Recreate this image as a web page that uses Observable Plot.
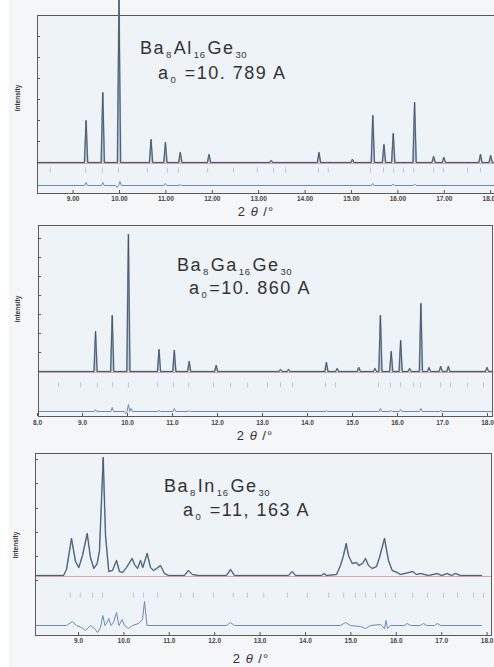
<!DOCTYPE html>
<html><head><meta charset="utf-8">
<script src="https://cdn.jsdelivr.net/npm/d3@7"></script>
<script src="https://cdn.jsdelivr.net/npm/@observablehq/plot@0.6"></script>
<style>
html,body{margin:0;padding:0;}
body{width:494px;height:667px;overflow:hidden;position:relative;background:#f4f6f8;font-family:"Liberation Sans",Arial,sans-serif;}
.strip{position:absolute;left:0;top:0;width:9px;height:667px;background:#fff;}
.panel{position:absolute;left:0;}
.title{position:absolute;font-size:18px;line-height:18px;color:#333;letter-spacing:1.5px;white-space:nowrap;}
.title .s{font-size:9.5px;vertical-align:-4px;letter-spacing:0.5px;margin:0 2px 0 1px;}
.ylab{position:absolute;font-size:6.5px;font-weight:bold;color:#333;transform:translate(-50%,-50%) rotate(-90deg);white-space:nowrap;}
.xlab{position:absolute;font-size:13px;line-height:13px;color:#333;letter-spacing:1px;transform:translate(-50%,-50%);white-space:nowrap;}
</style></head><body>
<div class="strip"></div>
<div class="panel" id="p1" style="top:0px"></div>
<div class="panel" id="p2" style="top:215px"></div>
<div class="panel" id="p3" style="top:440px"></div>

<div class="title" style="left:140px;top:39px">Ba<span class="s">8</span>Al<span class="s">16</span>Ge<span class="s">30</span></div>
<div class="title" style="left:158px;top:64px">a<span class="s">0</span> =10. 789 A</div>
<div class="title" style="left:177px;top:256px">Ba<span class="s">8</span>Ga<span class="s">16</span>Ge<span class="s">30</span></div>
<div class="title" style="left:189px;top:279px">a<span class="s">0</span>=10. 860 A</div>
<div class="title" style="left:164px;top:477px">Ba<span class="s">8</span>In<span class="s">16</span>Ge<span class="s">30</span></div>
<div class="title" style="left:183px;top:501px">a<span class="s">0</span> =11, 163 A</div>

<div class="ylab" style="left:17px;top:98px">Intensity</div>
<div class="ylab" style="left:17px;top:309px">Intensity</div>
<div class="ylab" style="left:15px;top:545px">Intensity</div>

<div class="xlab" style="left:256px;top:211px">2 <i>θ</i> /°</div>
<div class="xlab" style="left:255px;top:435px">2 <i>θ</i> /°</div>
<div class="xlab" style="left:251px;top:658px">2 <i>θ</i> /°</div>

<script>
// ---------- Data (2θ in degrees, intensity in arbitrary units) ----------
// Panel 1: Ba8Al16Ge30
const peakPos1 = [9.28, 9.64, 9.99, 10.68, 10.99, 11.31, 11.93, 13.27, 14.30, 15.02, 15.46, 15.70, 15.90, 16.36, 16.77, 16.99, 17.78, 18.00];
const peakInt1 = [42, 70, 163, 23, 20, 10, 8, 2, 10, 3, 47, 18, 29, 60, 6, 5, 8, 7];
const diffPos1 = [9.28, 9.64, 9.95, 10.01, 10.99, 11.31, 15.46, 15.90, 16.36];
const diffVal1 = [3, 3, -2, 4, 2, 1, 2, 1.5, 1.5];
const bragg1 = [8.51, 9.27, 9.63, 9.98, 10.60, 11.03, 11.27, 11.90, 12.46, 12.97, 13.32, 13.58, 14.29, 14.50, 15.41, 15.69, 15.91, 16.12, 16.34, 16.77, 16.98, 17.50, 17.78];
const xTicks1 = [9, 10, 11, 12, 13, 14, 15, 16, 17, 18];
const yTicks1 = [0, 21, 42, 63, 84, 105, 126, 147];

// Panel 2: Ba8Ga16Ge30
const peakPos2 = [9.29, 9.66, 10.02, 10.70, 11.04, 11.37, 11.97, 13.40, 13.58, 14.42, 14.66, 15.14, 15.50, 15.62, 15.86, 16.07, 16.27, 16.52, 16.70, 16.96, 17.13, 17.99];
const peakInt2 = [40, 56, 137, 22, 21, 10, 6, 2, 2, 9, 3, 4, 3, 56, 20, 31, 3, 68, 4, 5, 5, 4];
const diffPos2 = [9.29, 9.66, 9.96, 10.02, 10.08, 10.70, 11.04, 11.37, 14.42, 15.62, 15.86, 16.07, 16.52, 16.96];
const diffVal2 = [2, 4, -2, 7, 3, 1, 3, 1, 1, 3, 1, 2, 3, 1];
const bragg2 = [8.47, 8.96, 9.33, 9.67, 10.02, 10.67, 11.02, 11.36, 11.91, 12.29, 12.67, 13.11, 13.40, 13.67, 14.40, 14.62, 15.58, 15.84, 16.07, 16.36, 16.51, 16.96, 17.18, 17.56, 17.91];
const xTicks2 = [8, 9, 10, 11, 12, 13, 14, 15, 16, 17, 18];
const yTicks2 = [0, 19, 38, 57, 76, 95, 114, 133];

// Panel 3: Ba8In16Ge30 (broader profile, read point by point)
const profX3 = [8.053, 8.670, 8.736, 8.846, 8.934, 9.007, 9.088, 9.192, 9.264, 9.337, 9.412, 9.463, 9.544, 9.595, 9.667, 9.749, 9.837, 9.903, 9.969, 10.057, 10.183, 10.233, 10.300, 10.366, 10.416, 10.513, 10.586, 10.652, 10.718, 10.806, 10.894, 10.982, 11.335, 11.416, 11.511, 11.643, 12.260, 12.348, 12.436, 13.626, 13.707, 13.780, 14.352, 14.403, 14.463, 14.683, 14.771, 14.837, 14.896, 14.947, 15.029, 15.123, 15.174, 15.256, 15.322, 15.388, 15.469, 15.564, 15.630, 15.740, 15.828, 15.910, 16.020, 16.093, 16.363, 16.445, 16.533, 16.709, 16.901, 16.996, 17.121, 17.216, 17.304, 17.414, 17.877];
const profY3 = [0, 0, 6, 37, 14, 8, 20, 42, 18, 7, 12, 25, 118, 40, 4, 5, 15, 4, 3, 8, 17, 11, 7, 15, 8, 22, 8, 5, 7, 10, 2, 0, 0, 5, 1, 0, 0, 6, 0, 0, 4, 0, 0, 2, 0, 1, 10, 20, 32, 20, 12, 13, 10, 12, 17, 10, 7, 9, 18, 37, 15, 5, 3, 1, 4, 1, 2, 0, 2, 0, 2, 0, 2, 0, 0];
const diffX3 = [8.053, 8.736, 8.861, 8.956, 9.066, 9.154, 9.264, 9.352, 9.419, 9.485, 9.535, 9.584, 9.617, 9.667, 9.716, 9.771, 9.837, 9.892, 9.963, 10.013, 10.101, 10.189, 10.322, 10.410, 10.454, 10.509, 10.586, 12.260, 12.348, 12.436, 14.771, 14.881, 14.991, 15.211, 15.322, 15.432, 15.652, 15.740, 15.773, 15.806, 15.872, 16.181, 16.240, 16.313, 16.533, 16.599, 16.665, 16.841, 16.901, 16.974, 17.877];
const diffY3 = [0, 0, 4, 0, -2, -5, 0, -3, -7, -2, 10, 0, 2, 7, 0, 3, 13, 0, 6, 0, -3, 0, 2, 6, 24, 0, 0, 0, 3, 0, 0, 3, 0, -1, -3, 0, 1, -3, 5, -3, 0, 0, 2, 0, 0, 2, 0, 0, 2, 0, 0];
const bragg3 = [8.82, 9.04, 9.31, 9.53, 10.21, 10.43, 10.74, 11.25, 11.53, 11.97, 12.41, 12.72, 13.08, 13.60, 14.04, 14.51, 14.84, 15.10, 15.32, 15.54, 15.76, 15.98, 16.36, 16.69, 17.04, 17.35, 17.70, 17.92];
const xTicks3 = [9, 10, 11, 12, 13, 14, 15, 16, 17, 18];
const yTicks3 = [-5, 19, 43, 67, 92, 116];

// ---------- Helpers ----------
function peakProfile(pos, val, x0, x1, hw) {
  const pts = [{x: x0, y: 0}];
  pos.map((p, i) => [p, val[i]]).sort((a, b) => a[0] - b[0]).forEach(([p, v]) => {
    pts.push({x: p - hw, y: 0}, {x: p, y: v}, {x: p + hw, y: 0});
  });
  pts.push({x: x1, y: 0});
  return pts;
}
const zipXY = (xs, ys) => xs.map((x, i) => ({x, y: ys[i]}));

function panel(o) {
  const marks = [
    Plot.frame({fill: "#eef3f8", stroke: null}),
    Plot.ruleY([0], {stroke: "#e2a2a2", strokeWidth: 1.1, dy: 1}),
    Plot.ruleX(o.bragg, {x: d => d, y1: o.braggY - 2.5, y2: o.braggY + 2.5, stroke: "#bcc7d6", strokeWidth: 1})
  ];
  if (o.fill) marks.push(Plot.areaY(o.profile, {x: "x", y1: 0, y2: "y", fill: "#bcd0e5"}));
  marks.push(
    Plot.line(o.profile, {x: "x", y: "y", stroke: "#86a5c9", strokeWidth: 1.6}),
    Plot.line(o.profile, {x: "x", y: "y", stroke: "#4a4a4a", strokeWidth: 0.8}),
    Plot.line(o.diff, {x: "x", y: d => d.y + o.diffY, stroke: "#6f86b8", strokeWidth: 1}),
    Plot.axisY({ticks: o.yTicks, tickSize: 3, dx: 3, tickFormat: () => "", stroke: "#555", label: null}),
    Plot.axisX({ticks: o.xTicks, tickSize: 3, dy: -3, tickFormat: () => "", stroke: "#555", label: null}),
    Plot.axisX({ticks: o.xTicks, tickSize: 0, tickPadding: o.pad, tickFormat: o.fmt, fill: "#444", fontWeight: "bold", fontSize: 6.5, label: null}),
    Plot.frame({stroke: "#5a5a5a", strokeWidth: 1})
  );
  return Plot.plot({
    width: 494, height: o.height,
    marginTop: o.mt, marginBottom: o.mb, marginLeft: o.ml, marginRight: o.mr,
    x: {domain: o.xDomain},
    y: {domain: o.yDomain},
    style: {background: "transparent", fontFamily: "Liberation Sans, Arial, sans-serif"},
    marks
  });
}

const dom1 = [8.233, 18.147], dom2 = [8.022, 18.111], dom3 = [8.053, 18.097];

document.getElementById("p1").appendChild(panel({
  height: 220, mt: 15, mb: 27, ml: 37, mr: -3,
  xDomain: dom1, yDomain: [-31, 147],
  profile: peakProfile(peakPos1, peakInt1, dom1[0], dom1[1], 0.035),
  diff: peakProfile(diffPos1, diffVal1, dom1[0], dom1[1], 0.03),
  diffY: -23, bragg: bragg1, braggY: -8, fill: true,
  xTicks: xTicks1, yTicks: yTicks1, pad: 3, fmt: d3.format(".2f")
}));

document.getElementById("p2").appendChild(panel({
  height: 225, mt: 10, mb: 24, ml: 38, mr: 2,
  xDomain: dom2, yDomain: [-45, 146],
  profile: peakProfile(peakPos2, peakInt2, dom2[0], dom2[1], 0.035),
  diff: peakProfile(diffPos2, diffVal2, dom2[0], dom2[1], 0.03),
  diffY: -40, bragg: bragg2, braggY: -14, fill: true,
  xTicks: xTicks2, yTicks: yTicks2, pad: 4, fmt: d3.format(".1f")
}));

document.getElementById("p3").appendChild(panel({
  height: 227, mt: 13, mb: 32, ml: 35, mr: 3,
  xDomain: dom3, yDomain: [-60, 122],
  profile: zipXY(profX3, profY3),
  diff: zipXY(diffX3, diffY3),
  diffY: -50, bragg: bragg3, braggY: -20, fill: false,
  xTicks: xTicks3, yTicks: yTicks3, pad: 3, fmt: d3.format(".1f")
}));
</script>
</body></html>
